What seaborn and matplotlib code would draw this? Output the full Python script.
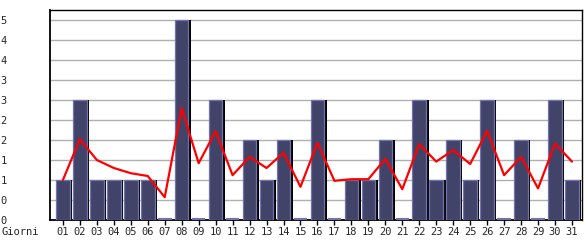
import numpy as np
import pandas as pd
import matplotlib
matplotlib.use("Agg")
import matplotlib.pyplot as plt
import matplotlib.transforms as mtransforms
import seaborn as sns

days = ["%02d" % d for d in range(1, 32)]
visits = [1, 3, 1, 1, 1, 1, 0, 5, 0, 3, 0, 2, 1, 2, 0, 3, 0, 1, 1, 2, 0, 3, 1, 2, 1, 3, 0, 2, 0, 3, 1]
trend = [1.0, 2.02, 1.5, 1.3, 1.17, 1.1, 0.57, 2.8, 1.42, 2.22, 1.12, 1.58, 1.3, 1.68, 0.83,
         1.93, 0.98, 1.02, 1.02, 1.53, 0.77, 1.9, 1.46, 1.75, 1.4, 2.23, 1.12, 1.58, 0.79, 1.91, 1.46]
yticks = [0, 0.5, 1, 1.5, 2, 2.5, 3, 3.5, 4, 4.5, 5]
ytick_labels = ["0", "0", "1", "1", "2", "2", "3", "3", "4", "4", "5"]
xlabel = "Giorni"

df = pd.DataFrame({"day": days, "visits": visits, "trend": trend})

sns.set_style("white")
plt.rcParams['font.family'] = ['DejaVu Sans Mono', 'DejaVu Sans']

W, H = 585, 240
fig = plt.figure(figsize=(W / 100, H / 100), dpi=100)
ax = fig.add_axes([50 / W, 20 / H, (582 - 50) / W, (230 - 20) / H])

# shadow bars (shifted 2px right)
sns.barplot(data=df, x="day", y="visits", order=days, color="black", width=0.8,
            saturation=1, linewidth=0, ax=ax, errorbar=None)
n_shadow = len(ax.patches)
offset = mtransforms.ScaledTranslation(2.5 / 100, 0, fig.dpi_scale_trans)
for p in ax.patches[:n_shadow]:
    p.set_transform(ax.transData + offset)
    p.set_zorder(2.5)

# main bars
sns.barplot(data=df, x="day", y="visits", order=days, color="#414468", width=0.8,
            saturation=1, edgecolor="#7272ae", linewidth=0.9, ax=ax, errorbar=None)
for p in ax.patches[n_shadow:]:
    p.set_zorder(3)

# zero-value days: thin light strip at the base
zero_idx = [i for i, v in enumerate(visits) if v == 0]
ax.hlines([visits[i] for i in zero_idx], [i - 0.4 for i in zero_idx], [i + 0.4 for i in zero_idx],
          colors="#7272ae", lw=1.5,
          transform=ax.transData + mtransforms.ScaledTranslation(0, 1.5 / 100, fig.dpi_scale_trans),
          zorder=3)

# trend line
ax.plot(np.arange(len(days)), df["trend"], color="#ff0000", lw=1.6, zorder=4)

ax.set_xlim(-0.76, 30.59)
ax.set_ylim(0, 5.25)
ax.set_yticks(yticks)
ax.set_yticklabels(ytick_labels, fontsize=7.5, ha="left")
ax.yaxis.grid(True, color="#b0b0b0", lw=1)
ax.set_axisbelow(True)
ax.tick_params(axis="y", length=3.6, color="#b0b0b0", pad=32)
ax.tick_params(axis="x", length=3.6, color="black", width=1, pad=1.5, labelsize=7.5, bottom=True)
ax.set_xticks(np.arange(len(days)))
ax.set_xticklabels(days)
ax.set_xlabel("")
ax.set_ylabel("")
for s in ax.spines.values():
    s.set_visible(True)
    s.set_color("black")
    s.set_linewidth(1)
ax.spines["left"].set_linewidth(1.3)
ax.spines["bottom"].set_linewidth(1.3)

fig.text(2 / W, 1 - 232 / H, xlabel, fontsize=7.5, ha="left", va="center")

fig.savefig("out.png", dpi=100)
